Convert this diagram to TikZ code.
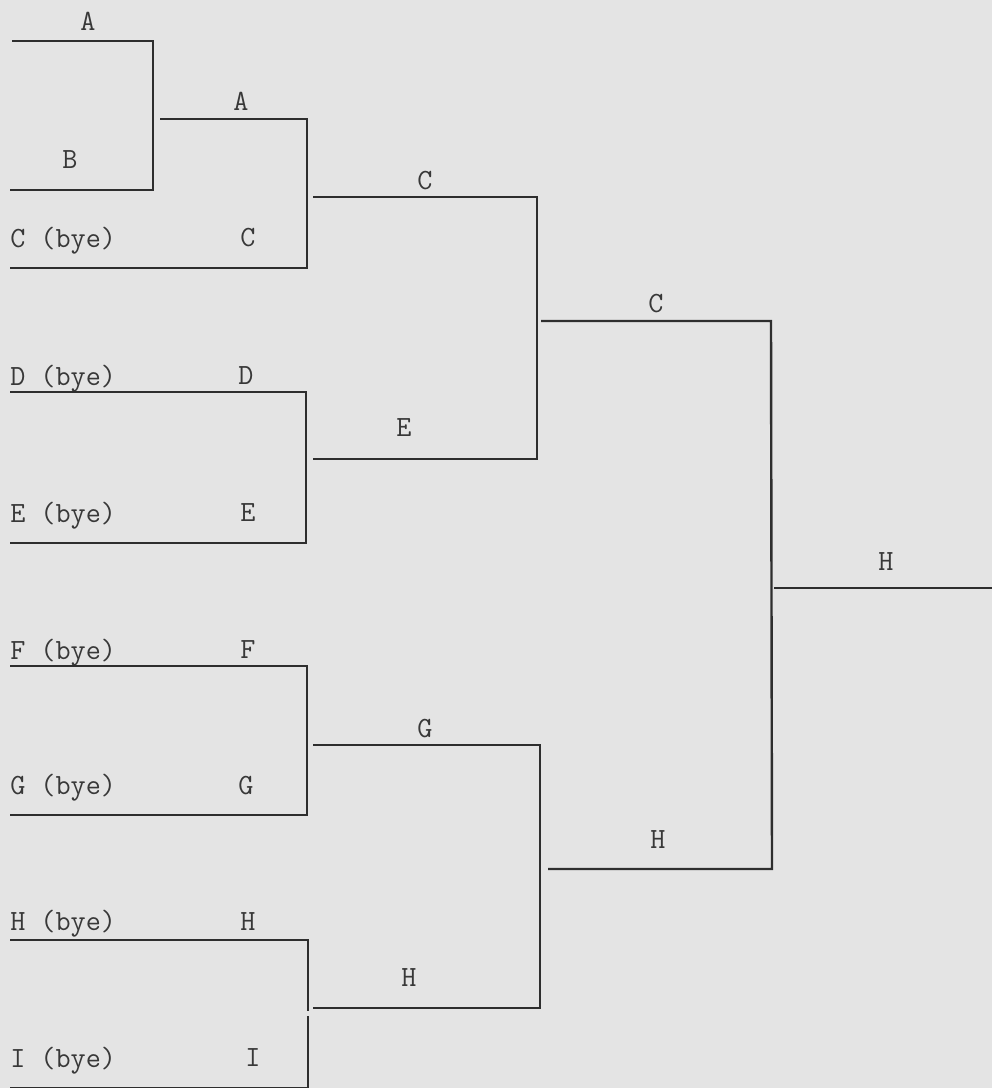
\documentclass[tikz,border=0pt]{standalone}
\begin{document}
\begin{tikzpicture}[x=0.75pt,y=-0.75pt,
  line/.style={draw=black!82,line width=1.8pt,line join=miter},
  lbl/.style={inner sep=0pt,anchor=base,font=\fontsize{22}{25}\selectfont\ttfamily,text=black!78},
  bye/.style={lbl,anchor=base west}]
\useasboundingbox (0,0) rectangle (992,1088);
\clip (0,0) rectangle (992,1088);
\fill[black!10.5] (0,0) rectangle (992,1088);
% labels
\node[lbl] (la1) at (88,31) {A};
\node[lbl] (lb1) at (70,168) {B};
\node[lbl] (la2) at (241,110) {A};
\node[bye] (lcb) at (10,247) {C (bye)};
\node[lbl] (lc2) at (248,246) {C};
\node[lbl] (lc3) at (425,189) {C};
\node[bye] (ldb) at (10,385) {D (bye)};
\node[lbl] (ld2) at (246,384) {D};
\node[lbl] (le3) at (404,436) {E};
\node[bye] (leb) at (10,522) {E (bye)};
\node[lbl] (le2) at (248,521) {E};
\node[lbl] (lc4) at (656,312) {C};
\node[lbl] (lh5) at (886,570) {H};
\node[bye] (lfb) at (10,659) {F (bye)};
\node[lbl] (lf2) at (248,658) {F};
\node[lbl] (lg3) at (425,737) {G};
\node[bye] (lgb) at (10,794) {G (bye)};
\node[lbl] (lg2) at (246,794) {G};
\node[lbl] (lh4) at (658,848) {H};
\node[bye] (lhb) at (10,930) {H (bye)};
\node[lbl] (lh2) at (248,930) {H};
\node[lbl] (lh3) at (409,986) {H};
\node[bye] (lib) at (10,1067) {I (bye)};
\node[lbl] (li2) at (253,1066) {I};
% round 1
\coordinate (a1l) at (12,41); \coordinate (a1r) at (153,41);
\coordinate (b1l) at (10,190); \coordinate (b1r) at (153,190);
\draw[line] (a1l) -- (a1r) -- (b1r) -- (b1l);
% round 2
\coordinate (a2l) at (160,119); \coordinate (a2r) at (307,119);
\coordinate (c2l) at (10,268); \coordinate (c2r) at (307,268);
\draw[line] (a2l) -- (a2r) -- (c2r) -- (c2l);
\coordinate (d2l) at (10,392); \coordinate (d2r) at (306,392);
\coordinate (e2l) at (10,543); \coordinate (e2r) at (306,543);
\draw[line] (d2l) -- (d2r) -- (e2r) -- (e2l);
\coordinate (f2l) at (10,666); \coordinate (f2r) at (307,666);
\coordinate (g2l) at (10,815); \coordinate (g2r) at (307,815);
\draw[line] (f2l) -- (f2r) -- (g2r) -- (g2l);
\coordinate (h2l) at (10,940); \coordinate (h2r) at (308,940);
\coordinate (h2m) at (308,1011); \coordinate (i2m) at (308,1016);
\coordinate (i2r) at (308,1088); \coordinate (i2l) at (10,1088);
\draw[line] (h2l) -- (h2r) -- (h2m);
\draw[line] (i2m) -- (i2r) -- (i2l);
% round 3
\coordinate (c3l) at (313,197); \coordinate (c3r) at (537,197);
\coordinate (e3l) at (313,459); \coordinate (e3r) at (537,459);
\draw[line] (c3l) -- (c3r) -- (e3r) -- (e3l);
\coordinate (g3l) at (313,745); \coordinate (g3r) at (540,745);
\coordinate (h3l) at (313,1008); \coordinate (h3r) at (540,1008);
\draw[line] (g3l) -- (g3r) -- (h3r) -- (h3l);
% round 4
\coordinate (c4l) at (541,321); \coordinate (c4r) at (771,321);
\coordinate (h4l) at (548,869); \coordinate (h4r) at (772,869);
\draw[line] (c4l) -- (c4r) -- (h4r) -- (h4l);
% final
\coordinate (h5l) at (774,588); \coordinate (h5r) at (992,588);
\draw[line] (h5l) -- (h5r);
\end{tikzpicture}
\end{document}
